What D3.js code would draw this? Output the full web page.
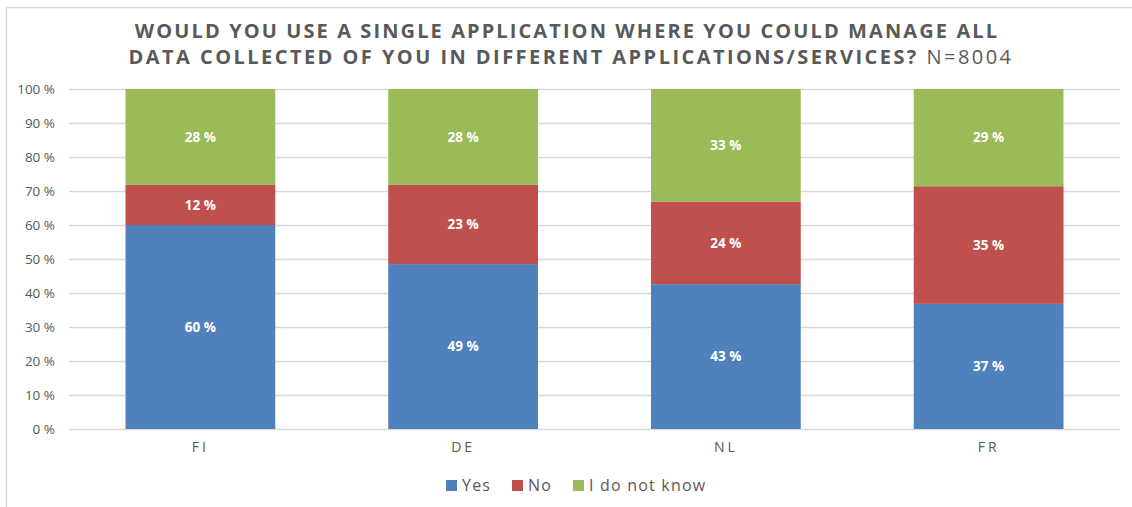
<!DOCTYPE html>
<html>
<head>
<meta charset="utf-8">
<script src="https://cdn.jsdelivr.net/npm/d3@7"></script>
<style>
  html, body { margin: 0; padding: 0; background: #fff; }
  svg { display: block; }
  text { font-family: "Open Sans", "DejaVu Sans", sans-serif; }
</style>
</head>
<body>
<svg id="chart" width="1132" height="507"></svg>
<script>
// Survey answers per country (percent of respondents)
const countries = ["FI", "DE", "NL", "FR"];
const seriesNames = ["Yes", "No", "I do not know"];
const yesValues = [60.0, 48.5, 42.6, 36.8];
const noValues = [11.8, 23.3, 24.3, 34.6];
const dontKnowValues = [28.2, 28.2, 33.1, 28.6];
const yTicks = [0, 10, 20, 30, 40, 50, 60, 70, 80, 90, 100];
const seriesColors = ["#4f81bd", "#c0504d", "#9bbb59"];
const titleLines = [
  "WOULD YOU USE A SINGLE APPLICATION WHERE YOU COULD MANAGE ALL",
  "DATA COLLECTED OF YOU IN DIFFERENT APPLICATIONS/SERVICES?"
];
const titleSuffix = " N=8004";

const rows = countries.map((c, i) => ({
  country: c,
  "Yes": yesValues[i],
  "No": noValues[i],
  "I do not know": dontKnowValues[i]
}));

const svg = d3.select("#chart");
const W = 1132, H = 507;
const margin = { top: 89, right: 12, bottom: 78, left: 69 };
const innerW = W - margin.left - margin.right;
const innerH = H - margin.top - margin.bottom;
const textGray = "#595959";

// Chart frame (top and left edges visible)
svg.append("line").attr("x1", 6.5).attr("x2", W).attr("y1", 7.5).attr("y2", 7.5)
  .attr("stroke", "#d9d9d9").attr("stroke-width", 1.5);
svg.append("line").attr("x1", 6.5).attr("x2", 6.5).attr("y1", 7.5).attr("y2", H)
  .attr("stroke", "#d9d9d9").attr("stroke-width", 1.5);

// Title (two centred lines, sample size in regular weight)
const title = svg.append("text")
  .attr("text-anchor", "middle")
  .attr("fill", textGray).attr("font-size", 20).attr("font-weight", 700);
title.append("tspan").attr("x", 567).attr("y", 38).attr("letter-spacing", 2.1).text(titleLines[0]);
const l2 = title.append("tspan").attr("x", 571).attr("y", 64).attr("letter-spacing", 2.45);
l2.append("tspan").text(titleLines[1]);
l2.append("tspan").attr("font-weight", 400).text(titleSuffix);

const g = svg.append("g").attr("transform", `translate(${margin.left},${margin.top})`);

const x = d3.scaleBand().domain(countries).range([0, innerW]).paddingInner(0.43).paddingOuter(0.215);
const y = d3.scaleLinear().domain([0, 100]).range([innerH, 0]);

// Gridlines
g.append("g").selectAll("line").data(yTicks).join("line")
  .attr("x1", 0).attr("x2", innerW)
  .attr("y1", d => Math.round(y(d)) + 0.5).attr("y2", d => Math.round(y(d)) + 0.5)
  .attr("stroke", "#d9d9d9").attr("stroke-width", 1.5);

// Y axis labels
const yAxis = g.append("g").call(
  d3.axisLeft(y).tickValues(yTicks).tickSize(0).tickPadding(14).tickFormat(d => d + " %")
);
yAxis.select(".domain").remove();
yAxis.selectAll("text").attr("fill", textGray).attr("font-size", 13.5)
  .attr("font-family", "'Open Sans', sans-serif");

// Stacked bars
const stack = d3.stack().keys(seriesNames);
const layers = stack(rows);

const layerG = g.selectAll("g.layer").data(layers).join("g")
  .attr("class", "layer").attr("fill", (d, i) => seriesColors[i]);

layerG.selectAll("rect").data(d => d.map(p => ({ p, key: d.key }))).join("rect")
  .attr("x", d => x(d.p.data.country))
  .attr("width", x.bandwidth())
  .attr("y", d => y(d.p[1]))
  .attr("height", d => y(d.p[0]) - y(d.p[1]));

const fmt = d3.format(".0f");
layerG.selectAll("text").data(d => d.map(p => ({ p, key: d.key }))).join("text")
  .attr("x", d => x(d.p.data.country) + x.bandwidth() / 2)
  .attr("y", d => (y(d.p[0]) + y(d.p[1])) / 2)
  .attr("dy", "0.35em")
  .attr("text-anchor", "middle")
  .attr("fill", "#fff").attr("font-size", 13.5).attr("font-weight", 700)
  .text(d => fmt(d.p.data[d.key]) + " %");

// X axis labels
const xAxis = g.append("g").attr("transform", `translate(0,${innerH})`)
  .call(d3.axisBottom(x).tickSize(0).tickPadding(13));
xAxis.select(".domain").remove();
xAxis.selectAll("text").attr("fill", textGray).attr("font-size", 14)
  .attr("letter-spacing", 3).attr("font-family", "'Open Sans', sans-serif");

// Legend
const legendItems = [
  { name: seriesNames[0], color: seriesColors[0], x: 446 },
  { name: seriesNames[1], color: seriesColors[1], x: 512 },
  { name: seriesNames[2], color: seriesColors[2], x: 573 }
];
const legend = svg.append("g");
const li = legend.selectAll("g").data(legendItems).join("g")
  .attr("transform", d => `translate(${d.x},480)`);
li.append("rect").attr("width", 11).attr("height", 11).attr("fill", d => d.color);
li.append("text").attr("x", 16).attr("y", 11)
  .attr("fill", textGray).attr("font-size", 16).attr("letter-spacing", 1.2)
  .text(d => d.name);
</script>
</body>
</html>
